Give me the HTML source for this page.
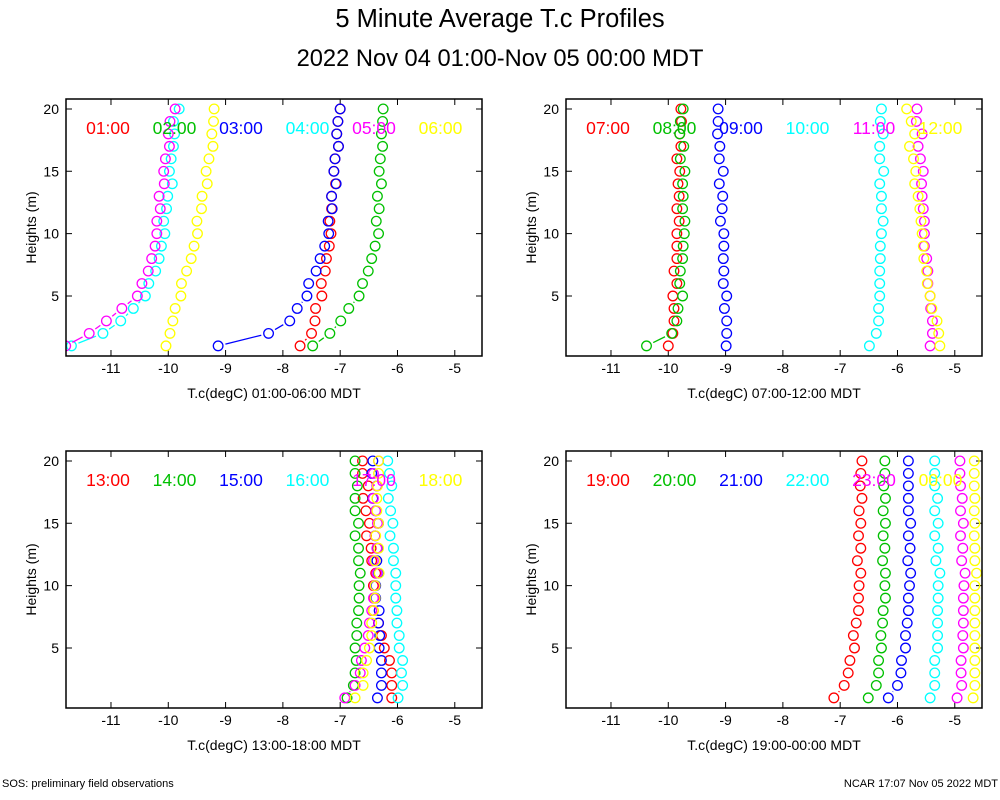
<!DOCTYPE html>
<html><head><meta charset="utf-8"><style>
body{margin:0;background:#fff;}
svg{display:block;font-family:"Liberation Sans",sans-serif;}
</style></head><body>
<svg id="chart" width="1000" height="800" viewBox="0 0 1000 800">
<text x="500" y="27" text-anchor="middle" font-size="25.5">5 Minute Average T.c Profiles</text>
<text x="500" y="66" text-anchor="middle" font-size="23.7">2022 Nov 04 01:00-Nov 05 00:00 MDT</text>
<text x="2" y="787" font-size="11">SOS: preliminary field observations</text>
<text x="998" y="787" text-anchor="end" font-size="11">NCAR 17:07 Nov 05 2022 MDT</text>
</svg>
<script>
const heights=[1,2,3,4,5,6,7,8,9,10,11,12,13,14,15,16,17,18,19,20];
const xTicks=[-11,-10,-9,-8,-7,-6,-5];
const yTicks=[5,10,15,20];
const colors=["#ff0000","#00c000","#0000ff","#00ffff","#ff00ff","#ffff00"];
const panelTitles=["T.c(degC) 01:00-06:00 MDT","T.c(degC) 07:00-12:00 MDT","T.c(degC) 13:00-18:00 MDT","T.c(degC) 19:00-00:00 MDT"];
const labels1=["01:00","02:00","03:00","04:00","05:00","06:00"];
const labels2=["07:00","08:00","09:00","10:00","11:00","12:00"];
const labels3=["13:00","14:00","15:00","16:00","17:00","18:00"];
const labels4=["19:00","20:00","21:00","22:00","23:00","00:00"];
const p1s1=[-7.70,-7.50,-7.44,-7.43,-7.32,-7.33,-7.26,-7.24,-7.19,-7.16,-7.18,-7.15,-7.15,-7.08,-7.11,-7.09,-7.03,-7.06,-7.04,-7.00];
const p1s2=[-7.48,-7.18,-6.99,-6.85,-6.67,-6.61,-6.51,-6.45,-6.39,-6.33,-6.37,-6.32,-6.35,-6.28,-6.32,-6.30,-6.26,-6.28,-6.26,-6.25];
const p1s3=[-9.13,-8.25,-7.88,-7.75,-7.58,-7.55,-7.42,-7.35,-7.27,-7.20,-7.21,-7.14,-7.15,-7.07,-7.11,-7.09,-7.03,-7.06,-7.04,-7.00];
const p1s4=[-11.69,-11.14,-10.83,-10.61,-10.40,-10.34,-10.22,-10.16,-10.12,-10.06,-10.08,-10.03,-10.01,-9.93,-9.98,-9.95,-9.91,-9.89,-9.91,-9.81];
const p1s5=[-11.79,-11.38,-11.08,-10.81,-10.54,-10.46,-10.35,-10.29,-10.23,-10.20,-10.20,-10.14,-10.16,-10.07,-10.08,-10.05,-9.98,-10.00,-9.97,-9.88];
const p1s6=[-10.04,-9.97,-9.92,-9.88,-9.78,-9.77,-9.68,-9.60,-9.55,-9.49,-9.50,-9.42,-9.41,-9.32,-9.34,-9.29,-9.22,-9.24,-9.21,-9.20];
const p2s1=[-10.00,-9.92,-9.90,-9.90,-9.92,-9.85,-9.90,-9.85,-9.85,-9.85,-9.81,-9.85,-9.81,-9.83,-9.80,-9.85,-9.78,-9.80,-9.77,-9.78];
const p2s2=[-10.38,-9.94,-9.85,-9.83,-9.75,-9.80,-9.79,-9.75,-9.74,-9.72,-9.71,-9.75,-9.74,-9.75,-9.71,-9.79,-9.73,-9.80,-9.79,-9.74];
const p2s3=[-8.99,-8.98,-8.98,-9.02,-8.98,-9.04,-9.03,-9.04,-9.03,-9.03,-9.09,-9.06,-9.05,-9.11,-9.04,-9.11,-9.10,-9.14,-9.13,-9.13];
const p2s4=[-6.49,-6.37,-6.33,-6.33,-6.31,-6.31,-6.31,-6.30,-6.30,-6.28,-6.25,-6.28,-6.28,-6.31,-6.24,-6.31,-6.31,-6.25,-6.30,-6.28];
const p2s5=[-5.43,-5.39,-5.39,-5.42,-5.43,-5.47,-5.47,-5.49,-5.53,-5.53,-5.53,-5.55,-5.57,-5.58,-5.55,-5.60,-5.64,-5.57,-5.67,-5.66];
const p2s6=[-5.26,-5.28,-5.31,-5.40,-5.43,-5.48,-5.49,-5.54,-5.55,-5.57,-5.59,-5.61,-5.64,-5.70,-5.68,-5.72,-5.79,-5.70,-5.76,-5.84];
const p3s1=[-6.10,-6.10,-6.10,-6.14,-6.23,-6.28,-6.33,-6.42,-6.40,-6.42,-6.38,-6.45,-6.46,-6.54,-6.49,-6.55,-6.60,-6.51,-6.61,-6.61];
const p3s2=[-6.88,-6.77,-6.74,-6.72,-6.74,-6.71,-6.71,-6.68,-6.67,-6.67,-6.65,-6.68,-6.68,-6.74,-6.68,-6.74,-6.74,-6.70,-6.74,-6.74];
const p3s3=[-6.35,-6.28,-6.28,-6.28,-6.32,-6.31,-6.33,-6.32,-6.38,-6.38,-6.33,-6.36,-6.35,-6.39,-6.33,-6.38,-6.43,-6.36,-6.45,-6.43];
const p3s4=[-5.99,-5.91,-5.93,-5.91,-5.97,-5.97,-6.01,-6.01,-6.03,-6.03,-6.03,-6.07,-6.07,-6.13,-6.08,-6.12,-6.16,-6.10,-6.14,-6.17];
const p3s5=[-6.92,-6.74,-6.65,-6.63,-6.57,-6.51,-6.49,-6.45,-6.42,-6.40,-6.36,-6.42,-6.36,-6.39,-6.35,-6.38,-6.42,-6.36,-6.42,-6.33];
const p3s6=[-6.74,-6.60,-6.60,-6.54,-6.49,-6.45,-6.45,-6.42,-6.39,-6.39,-6.32,-6.39,-6.33,-6.38,-6.33,-6.36,-6.36,-6.35,-6.33,-6.33];
const p4s1=[-7.11,-6.93,-6.86,-6.83,-6.75,-6.77,-6.72,-6.68,-6.68,-6.67,-6.64,-6.70,-6.64,-6.68,-6.64,-6.67,-6.62,-6.65,-6.64,-6.62];
const p4s2=[-6.51,-6.37,-6.33,-6.33,-6.28,-6.29,-6.26,-6.25,-6.21,-6.22,-6.21,-6.26,-6.22,-6.25,-6.21,-6.25,-6.21,-6.24,-6.22,-6.22];
const p4s3=[-6.16,-6.00,-5.94,-5.93,-5.86,-5.86,-5.83,-5.81,-5.81,-5.79,-5.77,-5.82,-5.78,-5.81,-5.77,-5.81,-5.81,-5.81,-5.81,-5.81];
const p4s4=[-5.43,-5.35,-5.35,-5.35,-5.30,-5.30,-5.30,-5.30,-5.29,-5.29,-5.26,-5.33,-5.29,-5.35,-5.29,-5.35,-5.30,-5.35,-5.35,-5.35];
const p4s5=[-4.96,-4.88,-4.89,-4.89,-4.85,-4.86,-4.85,-4.85,-4.85,-4.84,-4.82,-4.88,-4.86,-4.90,-4.85,-4.90,-4.87,-4.90,-4.91,-4.91];
const p4s6=[-4.68,-4.65,-4.65,-4.65,-4.65,-4.65,-4.65,-4.65,-4.65,-4.65,-4.62,-4.65,-4.65,-4.66,-4.65,-4.66,-4.65,-4.66,-4.66,-4.66];

const panels=[
 {ox:0,oy:0,labels:labels1,series:[p1s1,p1s2,p1s3,p1s4,p1s5,p1s6]},
 {ox:500,oy:0,labels:labels2,series:[p2s1,p2s2,p2s3,p2s4,p2s5,p2s6]},
 {ox:0,oy:352,labels:labels3,series:[p3s1,p3s2,p3s3,p3s4,p3s5,p3s6]},
 {ox:500,oy:352,labels:labels4,series:[p4s1,p4s2,p4s3,p4s4,p4s5,p4s6]}
];
const NS="http://www.w3.org/2000/svg";
const svg=document.getElementById('chart');
function mk(tag,attrs,parent){const e=document.createElementNS(NS,tag);for(const k in attrs)e.setAttribute(k,attrs[k]);(parent||svg).appendChild(e);return e;}
const XMIN=-11.785,XMAX=-4.525;
panels.forEach((p,pi)=>{
  const L=p.ox+66,R=p.ox+482,T=p.oy+99,B=p.oy+356;
  const xs=v=>L+(v-XMIN)/(XMAX-XMIN)*(R-L);
  const ys=h=>p.oy+296-(h-5)*12.47;
  const g=mk('g',{});
  
  
  const cp=mk('clipPath',{id:'clip'+pi},g);
  mk('rect',{x:L,y:T,width:R-L,height:B-T},cp);
  xTicks.forEach(t=>{
    const x=xs(t);
    const tk=mk('path',{d:`M${x} ${B}v-6M${x} ${T}v6`,stroke:'#000','stroke-width':1},g);
    
    
    const tl=mk('text',{x:x,y:B+17,'text-anchor':'middle','font-size':14},g);
    tl.textContent=String(t);
    
    
  });
  yTicks.forEach(t=>{
    const y=ys(t);
    const tk=mk('path',{d:`M${L} ${y}h6M${R} ${y}h-6`,stroke:'#000','stroke-width':1},g);
    
    
    const tl=mk('text',{x:L-7,y:y+5,'text-anchor':'end','font-size':14},g);
    tl.textContent=t;
    
    
  });
  const yt=mk('text',{x:0,y:0,'text-anchor':'middle','font-size':14,transform:`translate(${p.ox+36},${(T+B)/2}) rotate(-90)`},g);
  yt.textContent='Heights (m)';
  
  
  const xt=mk('text',{x:(L+R)/2,y:B+42,'text-anchor':'middle','font-size':14},g);
  xt.textContent=panelTitles[pi];
  
  
  const sg=mk('g',{'clip-path':`url(#clip${pi})`},g);
  p.series.forEach((s,si)=>{
    const col=colors[si];
    const ser=mk('g',{stroke:col,fill:'none','stroke-width':1.3},sg);
    
    
    for(let i=0;i<s.length-1;i++){
      const x1=xs(s[i]),y1=ys(heights[i]),x2=xs(s[i+1]),y2=ys(heights[i+1]);
      const dx=x2-x1,dy=y2-y1,d=Math.hypot(dx,dy),gap=7.5;
      if(d>2*gap){const ux=dx/d,uy=dy/d;
        const ln=mk('line',{x1:x1+ux*gap,y1:y1+uy*gap,x2:x2-ux*gap,y2:y2-uy*gap},ser);
        
        }
    }
    s.forEach((v,i)=>{
      const c=mk('circle',{cx:xs(v),cy:ys(heights[i]),r:4.8},ser);
      
      
    });
  });
  p.labels.forEach((lb,li)=>{
    const t=mk('text',{x:p.ox+108+li*66.5,y:T+35,'text-anchor':'middle','font-size':17.5,fill:colors[li]},g);
    t.textContent=lb;
    
    
  });
  const fr=mk('rect',{x:L,y:T,width:R-L,height:B-T,fill:'none',stroke:'#000','stroke-width':1.5},g);
  
  
});
</script>
</body></html>
